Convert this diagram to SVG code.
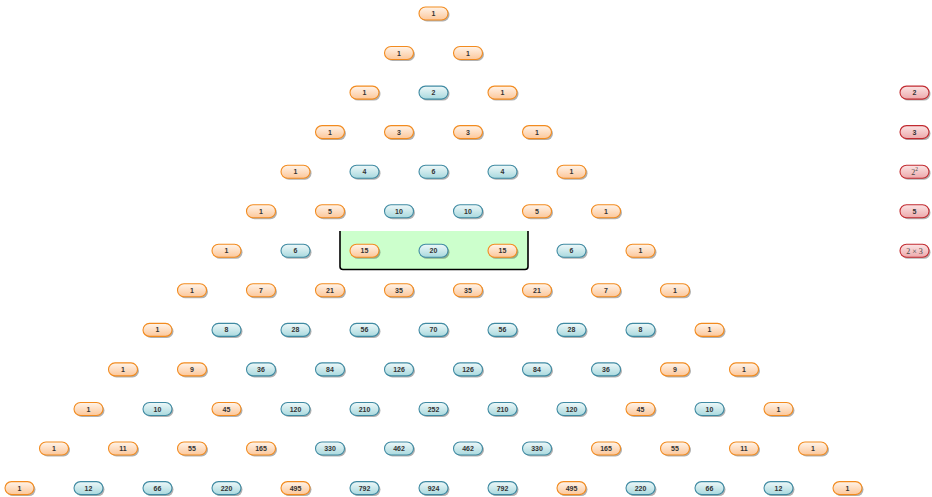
<svg xmlns="http://www.w3.org/2000/svg" width="932" height="497" viewBox="0 0 932 497">
<defs>
<linearGradient id="gOdd" x1="0" y1="0" x2="0" y2="1"><stop offset="0" stop-color="#fff4ea"/><stop offset="1" stop-color="#fcc79a"/></linearGradient>
<linearGradient id="gEven" x1="0" y1="0" x2="0" y2="1"><stop offset="0" stop-color="#eef8f9"/><stop offset="1" stop-color="#a9d9de"/></linearGradient>
<linearGradient id="gRed" x1="0" y1="0" x2="0" y2="1"><stop offset="0" stop-color="#fbe4e4"/><stop offset="1" stop-color="#eda9ab"/></linearGradient>
<filter id="blur" x="-20%" y="-40%" width="140%" height="180%"><feGaussianBlur stdDeviation="0.7"/></filter>
<rect id="sh" x="-13.5" y="-5" width="29" height="13" rx="6.5" fill="#000" opacity="0.3" filter="url(#blur)"/>
</defs>
<style>
.odd{fill:url(#gOdd);stroke:#f28b1f;stroke-width:1.1}
.even{fill:url(#gEven);stroke:#3f8aa2;stroke-width:1.1}
.red{fill:url(#gRed);stroke:#c12a30;stroke-width:1.1}
text{font-family:"Liberation Sans",Arial,sans-serif;font-size:7px;font-weight:bold;fill:#333;text-anchor:middle}
text.ser{font-family:"Liberation Serif","Times New Roman",serif;font-size:8px;font-weight:normal;fill:#444}
</style>
<g id="highlight">
<path d="M340,231 V266.5 Q340,269.5 343,269.5 H525 Q528,269.5 528,266.5 V231 Z" fill="#ccffcc" stroke="none"/>
<path d="M340,231 V266.5 Q340,269.5 343,269.5 H525 Q528,269.5 528,266.5 V231" fill="none" stroke="#000" stroke-width="1.6"/>
</g>
<g id="connectors"></g>
<g id="n0-0" transform="translate(434,13.5)"><use href="#sh"/><rect class="odd" x="-15" y="-6.5" width="29" height="13" rx="6.5"/><text x="-0.5" y="2.5">1</text></g>
<g id="n1-0" transform="translate(399.5,53)"><use href="#sh"/><rect class="odd" x="-15" y="-6.5" width="29" height="13" rx="6.5"/><text x="-0.5" y="2.5">1</text></g>
<g id="n1-1" transform="translate(468.5,53)"><use href="#sh"/><rect class="odd" x="-15" y="-6.5" width="29" height="13" rx="6.5"/><text x="-0.5" y="2.5">1</text></g>
<g id="n2-0" transform="translate(365,92.6)"><use href="#sh"/><rect class="odd" x="-15" y="-6.5" width="29" height="13" rx="6.5"/><text x="-0.5" y="2.5">1</text></g>
<g id="n2-1" transform="translate(434,92.6)"><use href="#sh"/><rect class="even" x="-15" y="-6.5" width="29" height="13" rx="6.5"/><text x="-0.5" y="2.5">2</text></g>
<g id="n2-2" transform="translate(503,92.6)"><use href="#sh"/><rect class="odd" x="-15" y="-6.5" width="29" height="13" rx="6.5"/><text x="-0.5" y="2.5">1</text></g>
<g id="n3-0" transform="translate(330.5,132.1)"><use href="#sh"/><rect class="odd" x="-15" y="-6.5" width="29" height="13" rx="6.5"/><text x="-0.5" y="2.5">1</text></g>
<g id="n3-1" transform="translate(399.5,132.1)"><use href="#sh"/><rect class="odd" x="-15" y="-6.5" width="29" height="13" rx="6.5"/><text x="-0.5" y="2.5">3</text></g>
<g id="n3-2" transform="translate(468.5,132.1)"><use href="#sh"/><rect class="odd" x="-15" y="-6.5" width="29" height="13" rx="6.5"/><text x="-0.5" y="2.5">3</text></g>
<g id="n3-3" transform="translate(537.5,132.1)"><use href="#sh"/><rect class="odd" x="-15" y="-6.5" width="29" height="13" rx="6.5"/><text x="-0.5" y="2.5">1</text></g>
<g id="n4-0" transform="translate(296,171.7)"><use href="#sh"/><rect class="odd" x="-15" y="-6.5" width="29" height="13" rx="6.5"/><text x="-0.5" y="2.5">1</text></g>
<g id="n4-1" transform="translate(365,171.7)"><use href="#sh"/><rect class="even" x="-15" y="-6.5" width="29" height="13" rx="6.5"/><text x="-0.5" y="2.5">4</text></g>
<g id="n4-2" transform="translate(434,171.7)"><use href="#sh"/><rect class="even" x="-15" y="-6.5" width="29" height="13" rx="6.5"/><text x="-0.5" y="2.5">6</text></g>
<g id="n4-3" transform="translate(503,171.7)"><use href="#sh"/><rect class="even" x="-15" y="-6.5" width="29" height="13" rx="6.5"/><text x="-0.5" y="2.5">4</text></g>
<g id="n4-4" transform="translate(572,171.7)"><use href="#sh"/><rect class="odd" x="-15" y="-6.5" width="29" height="13" rx="6.5"/><text x="-0.5" y="2.5">1</text></g>
<g id="n5-0" transform="translate(261.5,211.2)"><use href="#sh"/><rect class="odd" x="-15" y="-6.5" width="29" height="13" rx="6.5"/><text x="-0.5" y="2.5">1</text></g>
<g id="n5-1" transform="translate(330.5,211.2)"><use href="#sh"/><rect class="odd" x="-15" y="-6.5" width="29" height="13" rx="6.5"/><text x="-0.5" y="2.5">5</text></g>
<g id="n5-2" transform="translate(399.5,211.2)"><use href="#sh"/><rect class="even" x="-15" y="-6.5" width="29" height="13" rx="6.5"/><text x="-0.5" y="2.5">10</text></g>
<g id="n5-3" transform="translate(468.5,211.2)"><use href="#sh"/><rect class="even" x="-15" y="-6.5" width="29" height="13" rx="6.5"/><text x="-0.5" y="2.5">10</text></g>
<g id="n5-4" transform="translate(537.5,211.2)"><use href="#sh"/><rect class="odd" x="-15" y="-6.5" width="29" height="13" rx="6.5"/><text x="-0.5" y="2.5">5</text></g>
<g id="n5-5" transform="translate(606.5,211.2)"><use href="#sh"/><rect class="odd" x="-15" y="-6.5" width="29" height="13" rx="6.5"/><text x="-0.5" y="2.5">1</text></g>
<g id="n6-0" transform="translate(227,250.8)"><use href="#sh"/><rect class="odd" x="-15" y="-6.5" width="29" height="13" rx="6.5"/><text x="-0.5" y="2.5">1</text></g>
<g id="n6-1" transform="translate(296,250.8)"><use href="#sh"/><rect class="even" x="-15" y="-6.5" width="29" height="13" rx="6.5"/><text x="-0.5" y="2.5">6</text></g>
<g id="n6-2" transform="translate(365,250.8)"><use href="#sh"/><rect class="odd" x="-15" y="-6.5" width="29" height="13" rx="6.5"/><text x="-0.5" y="2.5">15</text></g>
<g id="n6-3" transform="translate(434,250.8)"><use href="#sh"/><rect class="even" x="-15" y="-6.5" width="29" height="13" rx="6.5"/><text x="-0.5" y="2.5">20</text></g>
<g id="n6-4" transform="translate(503,250.8)"><use href="#sh"/><rect class="odd" x="-15" y="-6.5" width="29" height="13" rx="6.5"/><text x="-0.5" y="2.5">15</text></g>
<g id="n6-5" transform="translate(572,250.8)"><use href="#sh"/><rect class="even" x="-15" y="-6.5" width="29" height="13" rx="6.5"/><text x="-0.5" y="2.5">6</text></g>
<g id="n6-6" transform="translate(641,250.8)"><use href="#sh"/><rect class="odd" x="-15" y="-6.5" width="29" height="13" rx="6.5"/><text x="-0.5" y="2.5">1</text></g>
<g id="n7-0" transform="translate(192.5,290.3)"><use href="#sh"/><rect class="odd" x="-15" y="-6.5" width="29" height="13" rx="6.5"/><text x="-0.5" y="2.5">1</text></g>
<g id="n7-1" transform="translate(261.5,290.3)"><use href="#sh"/><rect class="odd" x="-15" y="-6.5" width="29" height="13" rx="6.5"/><text x="-0.5" y="2.5">7</text></g>
<g id="n7-2" transform="translate(330.5,290.3)"><use href="#sh"/><rect class="odd" x="-15" y="-6.5" width="29" height="13" rx="6.5"/><text x="-0.5" y="2.5">21</text></g>
<g id="n7-3" transform="translate(399.5,290.3)"><use href="#sh"/><rect class="odd" x="-15" y="-6.5" width="29" height="13" rx="6.5"/><text x="-0.5" y="2.5">35</text></g>
<g id="n7-4" transform="translate(468.5,290.3)"><use href="#sh"/><rect class="odd" x="-15" y="-6.5" width="29" height="13" rx="6.5"/><text x="-0.5" y="2.5">35</text></g>
<g id="n7-5" transform="translate(537.5,290.3)"><use href="#sh"/><rect class="odd" x="-15" y="-6.5" width="29" height="13" rx="6.5"/><text x="-0.5" y="2.5">21</text></g>
<g id="n7-6" transform="translate(606.5,290.3)"><use href="#sh"/><rect class="odd" x="-15" y="-6.5" width="29" height="13" rx="6.5"/><text x="-0.5" y="2.5">7</text></g>
<g id="n7-7" transform="translate(675.5,290.3)"><use href="#sh"/><rect class="odd" x="-15" y="-6.5" width="29" height="13" rx="6.5"/><text x="-0.5" y="2.5">1</text></g>
<g id="n8-0" transform="translate(158,329.9)"><use href="#sh"/><rect class="odd" x="-15" y="-6.5" width="29" height="13" rx="6.5"/><text x="-0.5" y="2.5">1</text></g>
<g id="n8-1" transform="translate(227,329.9)"><use href="#sh"/><rect class="even" x="-15" y="-6.5" width="29" height="13" rx="6.5"/><text x="-0.5" y="2.5">8</text></g>
<g id="n8-2" transform="translate(296,329.9)"><use href="#sh"/><rect class="even" x="-15" y="-6.5" width="29" height="13" rx="6.5"/><text x="-0.5" y="2.5">28</text></g>
<g id="n8-3" transform="translate(365,329.9)"><use href="#sh"/><rect class="even" x="-15" y="-6.5" width="29" height="13" rx="6.5"/><text x="-0.5" y="2.5">56</text></g>
<g id="n8-4" transform="translate(434,329.9)"><use href="#sh"/><rect class="even" x="-15" y="-6.5" width="29" height="13" rx="6.5"/><text x="-0.5" y="2.5">70</text></g>
<g id="n8-5" transform="translate(503,329.9)"><use href="#sh"/><rect class="even" x="-15" y="-6.5" width="29" height="13" rx="6.5"/><text x="-0.5" y="2.5">56</text></g>
<g id="n8-6" transform="translate(572,329.9)"><use href="#sh"/><rect class="even" x="-15" y="-6.5" width="29" height="13" rx="6.5"/><text x="-0.5" y="2.5">28</text></g>
<g id="n8-7" transform="translate(641,329.9)"><use href="#sh"/><rect class="even" x="-15" y="-6.5" width="29" height="13" rx="6.5"/><text x="-0.5" y="2.5">8</text></g>
<g id="n8-8" transform="translate(710,329.9)"><use href="#sh"/><rect class="odd" x="-15" y="-6.5" width="29" height="13" rx="6.5"/><text x="-0.5" y="2.5">1</text></g>
<g id="n9-0" transform="translate(123.5,369.4)"><use href="#sh"/><rect class="odd" x="-15" y="-6.5" width="29" height="13" rx="6.5"/><text x="-0.5" y="2.5">1</text></g>
<g id="n9-1" transform="translate(192.5,369.4)"><use href="#sh"/><rect class="odd" x="-15" y="-6.5" width="29" height="13" rx="6.5"/><text x="-0.5" y="2.5">9</text></g>
<g id="n9-2" transform="translate(261.5,369.4)"><use href="#sh"/><rect class="even" x="-15" y="-6.5" width="29" height="13" rx="6.5"/><text x="-0.5" y="2.5">36</text></g>
<g id="n9-3" transform="translate(330.5,369.4)"><use href="#sh"/><rect class="even" x="-15" y="-6.5" width="29" height="13" rx="6.5"/><text x="-0.5" y="2.5">84</text></g>
<g id="n9-4" transform="translate(399.5,369.4)"><use href="#sh"/><rect class="even" x="-15" y="-6.5" width="29" height="13" rx="6.5"/><text x="-0.5" y="2.5">126</text></g>
<g id="n9-5" transform="translate(468.5,369.4)"><use href="#sh"/><rect class="even" x="-15" y="-6.5" width="29" height="13" rx="6.5"/><text x="-0.5" y="2.5">126</text></g>
<g id="n9-6" transform="translate(537.5,369.4)"><use href="#sh"/><rect class="even" x="-15" y="-6.5" width="29" height="13" rx="6.5"/><text x="-0.5" y="2.5">84</text></g>
<g id="n9-7" transform="translate(606.5,369.4)"><use href="#sh"/><rect class="even" x="-15" y="-6.5" width="29" height="13" rx="6.5"/><text x="-0.5" y="2.5">36</text></g>
<g id="n9-8" transform="translate(675.5,369.4)"><use href="#sh"/><rect class="odd" x="-15" y="-6.5" width="29" height="13" rx="6.5"/><text x="-0.5" y="2.5">9</text></g>
<g id="n9-9" transform="translate(744.5,369.4)"><use href="#sh"/><rect class="odd" x="-15" y="-6.5" width="29" height="13" rx="6.5"/><text x="-0.5" y="2.5">1</text></g>
<g id="n10-0" transform="translate(89,409)"><use href="#sh"/><rect class="odd" x="-15" y="-6.5" width="29" height="13" rx="6.5"/><text x="-0.5" y="2.5">1</text></g>
<g id="n10-1" transform="translate(158,409)"><use href="#sh"/><rect class="even" x="-15" y="-6.5" width="29" height="13" rx="6.5"/><text x="-0.5" y="2.5">10</text></g>
<g id="n10-2" transform="translate(227,409)"><use href="#sh"/><rect class="odd" x="-15" y="-6.5" width="29" height="13" rx="6.5"/><text x="-0.5" y="2.5">45</text></g>
<g id="n10-3" transform="translate(296,409)"><use href="#sh"/><rect class="even" x="-15" y="-6.5" width="29" height="13" rx="6.5"/><text x="-0.5" y="2.5">120</text></g>
<g id="n10-4" transform="translate(365,409)"><use href="#sh"/><rect class="even" x="-15" y="-6.5" width="29" height="13" rx="6.5"/><text x="-0.5" y="2.5">210</text></g>
<g id="n10-5" transform="translate(434,409)"><use href="#sh"/><rect class="even" x="-15" y="-6.5" width="29" height="13" rx="6.5"/><text x="-0.5" y="2.5">252</text></g>
<g id="n10-6" transform="translate(503,409)"><use href="#sh"/><rect class="even" x="-15" y="-6.5" width="29" height="13" rx="6.5"/><text x="-0.5" y="2.5">210</text></g>
<g id="n10-7" transform="translate(572,409)"><use href="#sh"/><rect class="even" x="-15" y="-6.5" width="29" height="13" rx="6.5"/><text x="-0.5" y="2.5">120</text></g>
<g id="n10-8" transform="translate(641,409)"><use href="#sh"/><rect class="odd" x="-15" y="-6.5" width="29" height="13" rx="6.5"/><text x="-0.5" y="2.5">45</text></g>
<g id="n10-9" transform="translate(710,409)"><use href="#sh"/><rect class="even" x="-15" y="-6.5" width="29" height="13" rx="6.5"/><text x="-0.5" y="2.5">10</text></g>
<g id="n10-10" transform="translate(779,409)"><use href="#sh"/><rect class="odd" x="-15" y="-6.5" width="29" height="13" rx="6.5"/><text x="-0.5" y="2.5">1</text></g>
<g id="n11-0" transform="translate(54.5,448.5)"><use href="#sh"/><rect class="odd" x="-15" y="-6.5" width="29" height="13" rx="6.5"/><text x="-0.5" y="2.5">1</text></g>
<g id="n11-1" transform="translate(123.5,448.5)"><use href="#sh"/><rect class="odd" x="-15" y="-6.5" width="29" height="13" rx="6.5"/><text x="-0.5" y="2.5">11</text></g>
<g id="n11-2" transform="translate(192.5,448.5)"><use href="#sh"/><rect class="odd" x="-15" y="-6.5" width="29" height="13" rx="6.5"/><text x="-0.5" y="2.5">55</text></g>
<g id="n11-3" transform="translate(261.5,448.5)"><use href="#sh"/><rect class="odd" x="-15" y="-6.5" width="29" height="13" rx="6.5"/><text x="-0.5" y="2.5">165</text></g>
<g id="n11-4" transform="translate(330.5,448.5)"><use href="#sh"/><rect class="even" x="-15" y="-6.5" width="29" height="13" rx="6.5"/><text x="-0.5" y="2.5">330</text></g>
<g id="n11-5" transform="translate(399.5,448.5)"><use href="#sh"/><rect class="even" x="-15" y="-6.5" width="29" height="13" rx="6.5"/><text x="-0.5" y="2.5">462</text></g>
<g id="n11-6" transform="translate(468.5,448.5)"><use href="#sh"/><rect class="even" x="-15" y="-6.5" width="29" height="13" rx="6.5"/><text x="-0.5" y="2.5">462</text></g>
<g id="n11-7" transform="translate(537.5,448.5)"><use href="#sh"/><rect class="even" x="-15" y="-6.5" width="29" height="13" rx="6.5"/><text x="-0.5" y="2.5">330</text></g>
<g id="n11-8" transform="translate(606.5,448.5)"><use href="#sh"/><rect class="odd" x="-15" y="-6.5" width="29" height="13" rx="6.5"/><text x="-0.5" y="2.5">165</text></g>
<g id="n11-9" transform="translate(675.5,448.5)"><use href="#sh"/><rect class="odd" x="-15" y="-6.5" width="29" height="13" rx="6.5"/><text x="-0.5" y="2.5">55</text></g>
<g id="n11-10" transform="translate(744.5,448.5)"><use href="#sh"/><rect class="odd" x="-15" y="-6.5" width="29" height="13" rx="6.5"/><text x="-0.5" y="2.5">11</text></g>
<g id="n11-11" transform="translate(813.5,448.5)"><use href="#sh"/><rect class="odd" x="-15" y="-6.5" width="29" height="13" rx="6.5"/><text x="-0.5" y="2.5">1</text></g>
<g id="n12-0" transform="translate(20,488.1)"><use href="#sh"/><rect class="odd" x="-15" y="-6.5" width="29" height="13" rx="6.5"/><text x="-0.5" y="2.5">1</text></g>
<g id="n12-1" transform="translate(89,488.1)"><use href="#sh"/><rect class="even" x="-15" y="-6.5" width="29" height="13" rx="6.5"/><text x="-0.5" y="2.5">12</text></g>
<g id="n12-2" transform="translate(158,488.1)"><use href="#sh"/><rect class="even" x="-15" y="-6.5" width="29" height="13" rx="6.5"/><text x="-0.5" y="2.5">66</text></g>
<g id="n12-3" transform="translate(227,488.1)"><use href="#sh"/><rect class="even" x="-15" y="-6.5" width="29" height="13" rx="6.5"/><text x="-0.5" y="2.5">220</text></g>
<g id="n12-4" transform="translate(296,488.1)"><use href="#sh"/><rect class="odd" x="-15" y="-6.5" width="29" height="13" rx="6.5"/><text x="-0.5" y="2.5">495</text></g>
<g id="n12-5" transform="translate(365,488.1)"><use href="#sh"/><rect class="even" x="-15" y="-6.5" width="29" height="13" rx="6.5"/><text x="-0.5" y="2.5">792</text></g>
<g id="n12-6" transform="translate(434,488.1)"><use href="#sh"/><rect class="even" x="-15" y="-6.5" width="29" height="13" rx="6.5"/><text x="-0.5" y="2.5">924</text></g>
<g id="n12-7" transform="translate(503,488.1)"><use href="#sh"/><rect class="even" x="-15" y="-6.5" width="29" height="13" rx="6.5"/><text x="-0.5" y="2.5">792</text></g>
<g id="n12-8" transform="translate(572,488.1)"><use href="#sh"/><rect class="odd" x="-15" y="-6.5" width="29" height="13" rx="6.5"/><text x="-0.5" y="2.5">495</text></g>
<g id="n12-9" transform="translate(641,488.1)"><use href="#sh"/><rect class="even" x="-15" y="-6.5" width="29" height="13" rx="6.5"/><text x="-0.5" y="2.5">220</text></g>
<g id="n12-10" transform="translate(710,488.1)"><use href="#sh"/><rect class="even" x="-15" y="-6.5" width="29" height="13" rx="6.5"/><text x="-0.5" y="2.5">66</text></g>
<g id="n12-11" transform="translate(779,488.1)"><use href="#sh"/><rect class="even" x="-15" y="-6.5" width="29" height="13" rx="6.5"/><text x="-0.5" y="2.5">12</text></g>
<g id="n12-12" transform="translate(848,488.1)"><use href="#sh"/><rect class="odd" x="-15" y="-6.5" width="29" height="13" rx="6.5"/><text x="-0.5" y="2.5">1</text></g>
<g id="f2" transform="translate(915,92.6)"><use href="#sh"/><rect class="red" x="-15" y="-6.5" width="29" height="13" rx="6.5"/><text x="-0.5" y="2.5">2</text></g>
<g id="f3" transform="translate(915,132.1)"><use href="#sh"/><rect class="red" x="-15" y="-6.5" width="29" height="13" rx="6.5"/><text x="-0.5" y="2.5">3</text></g>
<g id="f4" transform="translate(915,171.7)"><use href="#sh"/><rect class="red" x="-15" y="-6.5" width="29" height="13" rx="6.5"/><text class="ser" x="-0.5" y="3">2<tspan font-size="5.5" dy="-3.5">2</tspan></text></g>
<g id="f5" transform="translate(915,211.2)"><use href="#sh"/><rect class="red" x="-15" y="-6.5" width="29" height="13" rx="6.5"/><text x="-0.5" y="2.5">5</text></g>
<g id="f6" transform="translate(915,250.8)"><use href="#sh"/><rect class="red" x="-15" y="-6.5" width="29" height="13" rx="6.5"/><text class="ser" x="-0.5" y="3">2 × 3</text></g>
</svg>
